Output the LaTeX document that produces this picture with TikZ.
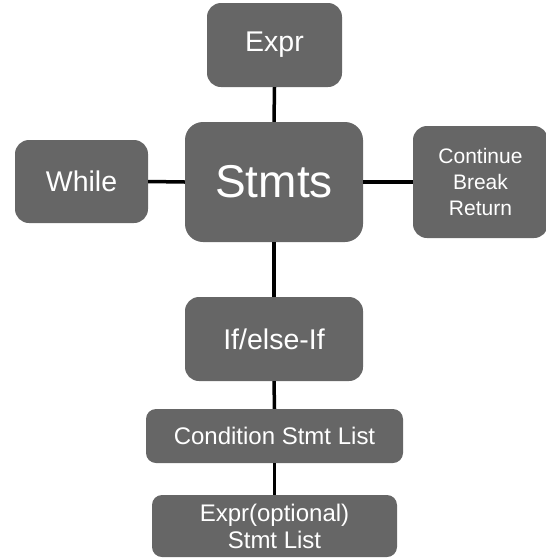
\documentclass[tikz,border=0pt]{standalone}
\usepackage{fontspec}
\setmainfont{Liberation Sans}
\definecolor{boxgray}{HTML}{666666}
\begin{document}
\begin{tikzpicture}[x=1pt,y=-1pt,
  block/.style={draw=none, fill=boxgray, rounded corners=14pt, text=white,
    inner sep=0pt, align=center},
  link/.style={line width=3.5pt, black}]
\useasboundingbox (0,0) rectangle (546,558);
% central statement node and its neighbours
\node[block, minimum width=178pt, minimum height=120pt, rounded corners=18pt,
  font=\fontsize{46}{50}\selectfont] (stmts) at (274,182) {Stmts};
\node[block, minimum width=135pt, minimum height=84pt,
  font=\fontsize{28.5}{32}\selectfont] (expr) at (274.5,45) {Expr};
\node[block, minimum width=133pt, minimum height=83pt,
  font=\fontsize{28.5}{32}\selectfont] (while) at (81.5,181.5) {While};
\node[block, minimum width=135pt, minimum height=112pt,
  font=\fontsize{21}{26}\selectfont] (jump) at (480.5,182) {Continue\\Break\\Return};
% conditional chain below
\node[block, minimum width=178pt, minimum height=84pt,
  font=\fontsize{28.5}{32}\selectfont] (ifelse) at (274,339) {If/else-If};
\node[block, minimum width=257pt, minimum height=54pt, rounded corners=10pt,
  font=\fontsize{24}{28}\selectfont] (cond) at (274.5,436) {Condition Stmt List};
\node[block, minimum width=245pt, minimum height=62pt, rounded corners=10pt,
  font=\fontsize{24}{27}\selectfont] (exopt) at (274.5,526) {Expr(optional)\\Stmt List};
% connectors
\draw[link] (expr.south) -- (stmts.north);
\draw[link] (while.east) -- (stmts.west);
\draw[link] (stmts.east) -- (jump.west);
\draw[link] (stmts.south) -- (ifelse.north);
\draw[link] (ifelse.south) -- (cond.north);
\draw[link] (cond.south) -- (exopt.north);
\end{tikzpicture}
\end{document}
